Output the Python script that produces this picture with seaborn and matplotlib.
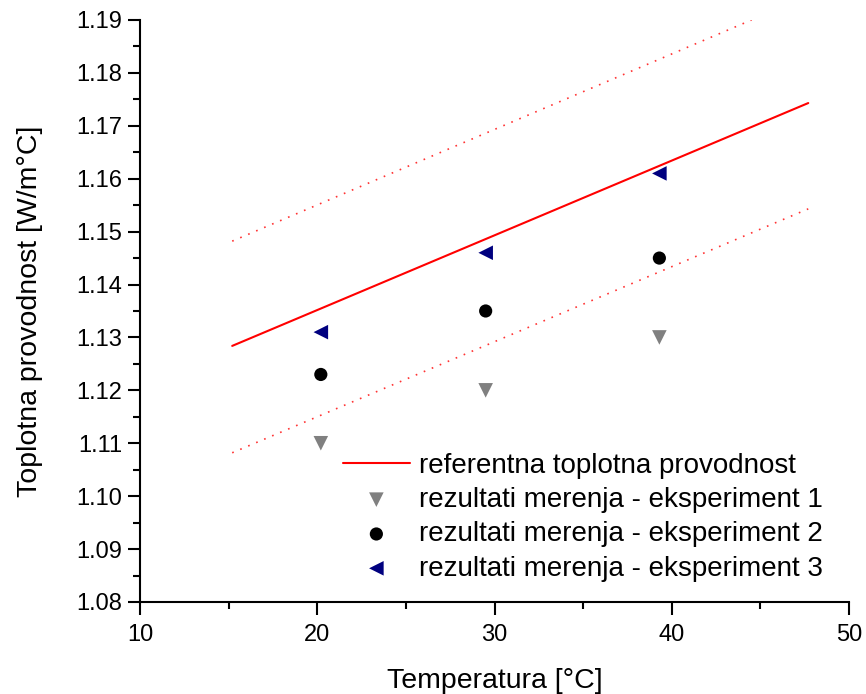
import numpy as np
import pandas as pd
import matplotlib
matplotlib.use("Agg")
import matplotlib.pyplot as plt
from matplotlib.ticker import MultipleLocator, FormatStrFormatter
import seaborn as sns

# reference curve
ref_temp = [15.2, 47.7]
ref_cond = [1.1284, 1.1743]
upper_temp = [15.2, 44.5]
upper_cond = [1.1482, 1.1900]
lower_temp = [15.2, 47.7]
lower_cond = [1.1082, 1.1543]

# measurements
temp = [20.2, 29.5, 39.3]
exp1 = [1.110, 1.120, 1.130]
exp2 = [1.123, 1.135, 1.145]
exp3 = [1.131, 1.146, 1.161]

labels = [
    "referentna toplotna provodnost",
    "rezultati merenja - eksperiment 1",
    "rezultati merenja - eksperiment 2",
    "rezultati merenja - eksperiment 3",
]

sns.set_style("ticks", {'axes.edgecolor': 'black', 'text.color': 'black',
                        'xtick.color': 'black', 'ytick.color': 'black',
                        'axes.labelcolor': 'black'})
plt.rcParams['font.family'] = ['Liberation Sans', 'DejaVu Sans']
plt.rcParams['font.size'] = 17

fig = plt.figure(figsize=(8.66, 6.94), dpi=100)
ax = fig.add_axes([0.1617, 0.1326, 0.8187, 0.8386])

sns.lineplot(x=ref_temp, y=ref_cond, ax=ax, color='red', linewidth=1.5, label=labels[0])
sns.lineplot(x=upper_temp, y=upper_cond, ax=ax, color='red', linewidth=1.2,
             linestyle=(0, (1, 4.2)), alpha=0.8)
sns.lineplot(x=lower_temp, y=lower_cond, ax=ax, color='red', linewidth=1.2,
             linestyle=(0, (1, 4.2)), alpha=0.8)

sns.scatterplot(x=temp, y=exp1, ax=ax, marker='v', color='#808080', s=110,
                edgecolor='none', label=labels[1])
sns.scatterplot(x=temp, y=exp2, ax=ax, marker='o', color='black', s=90,
                edgecolor='none', label=labels[2])
sns.scatterplot(x=temp, y=exp3, ax=ax, marker='<', color='#00007f', s=110,
                edgecolor='none', label=labels[3])

ax.set_xlim(10, 50)
ax.set_ylim(1.08, 1.19)
ax.xaxis.set_major_locator(MultipleLocator(10))
ax.xaxis.set_minor_locator(MultipleLocator(5))
ax.yaxis.set_major_locator(MultipleLocator(0.01))
ax.yaxis.set_minor_locator(MultipleLocator(0.005))
ax.yaxis.set_major_formatter(FormatStrFormatter('%.2f'))
ax.tick_params(which='major', length=9, width=1.5, direction='out', labelsize=17, pad=4)
ax.tick_params(axis='x', which='major', pad=7)
ax.tick_params(which='minor', length=5, width=1.5, direction='out')
for side in ['left', 'bottom']:
    ax.spines[side].set_linewidth(1.5)
sns.despine(ax=ax)

ax.set_xlabel('Temperatura [°C]', fontsize=20.5, labelpad=16)
ax.set_ylabel('Toplotna provodnost [W/m°C]', fontsize=20.5, labelpad=24)

ax.legend(loc='lower left', bbox_to_anchor=((343 - 140) / 709, 0.035), frameon=False,
          fontsize=20, handlelength=2.4, handletextpad=0.35, labelspacing=0.3,
          borderpad=0, borderaxespad=0)

fig.savefig('out.png', dpi=100)
